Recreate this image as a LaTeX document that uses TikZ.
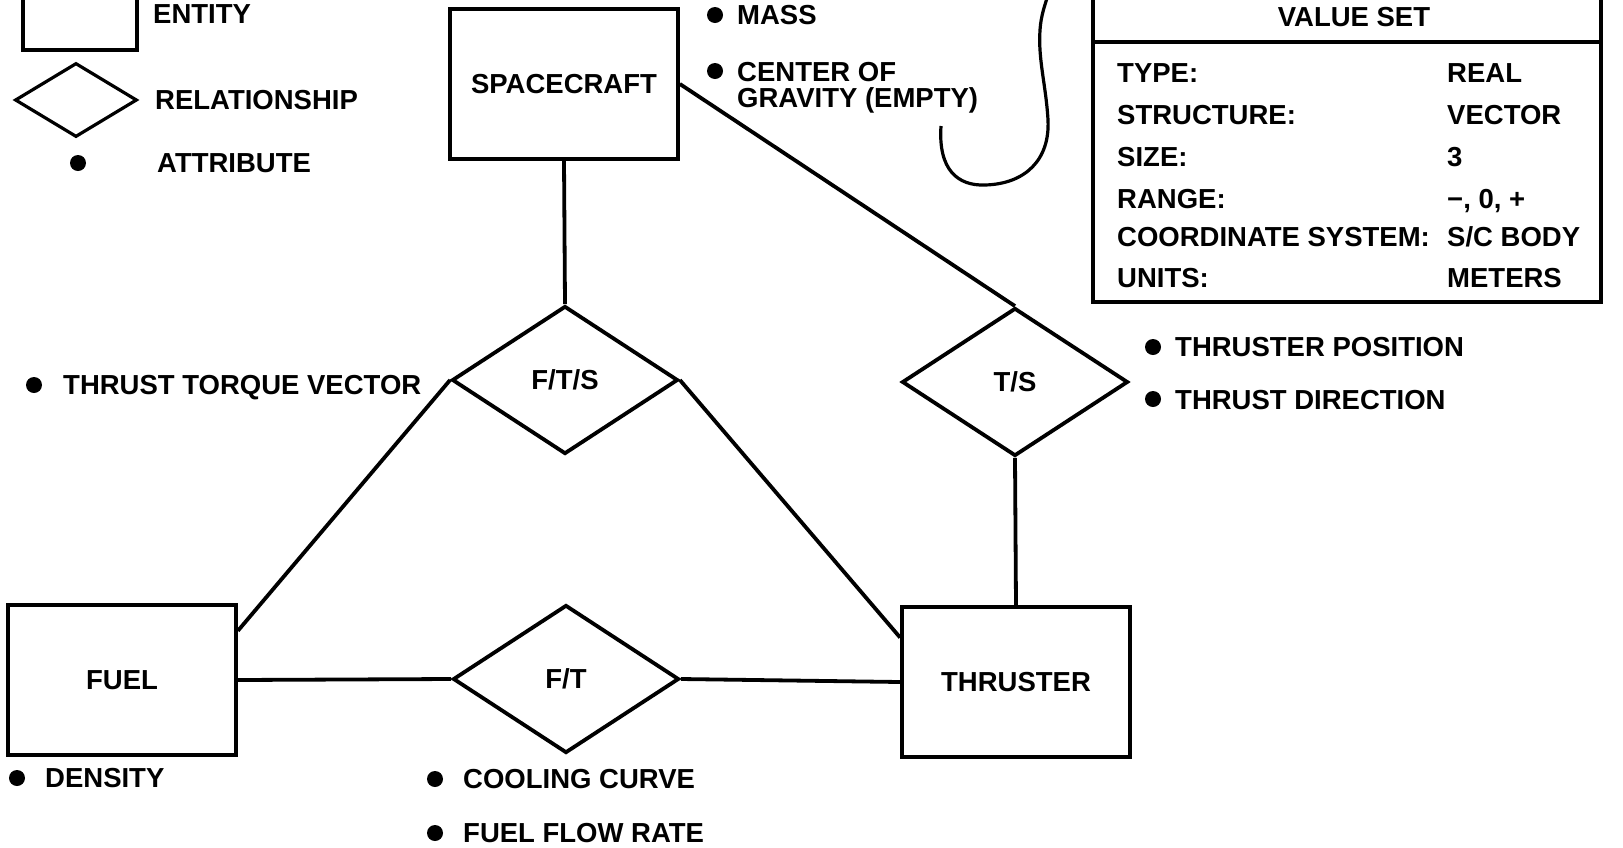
\documentclass[tikz,border=0pt]{standalone}
\usepackage{fontspec}
\setmainfont{Liberation Sans}
\usetikzlibrary{shapes.geometric}

\tikzset{
  entity/.style={draw, line width=3.8pt, minimum width=228pt, minimum height=150pt, inner sep=0pt},
  relation/.style={draw, diamond, line width=3.8pt, minimum width=226pt, minimum height=148pt, inner sep=0pt},
  link/.style={line width=3.8pt},
  dot/.style={circle, fill, inner sep=0pt, minimum size=16pt},
  txt/.style={anchor=west, inner sep=0pt, text height=19pt, text depth=0pt},
  ctr/.style={inner sep=0pt, text height=19pt, text depth=0pt},
}

\begin{document}
\begin{tikzpicture}[x=1pt, y=-1pt, every node/.style={font=\fontsize{27.5}{31}\selectfont\bfseries}]
\useasboundingbox (0,0) rectangle (1623,847);

% Legend
\node[entity, minimum width=114pt, minimum height=90pt, line width=3.2pt] (keyent) at (80,5) {};
\node[txt] (keyentlbl) at (153,14) {ENTITY};
\node[relation, minimum width=122pt, minimum height=74pt, line width=3.2pt] (keyrel) at (76,100) {};
\node[txt] (keyrellbl) at (155,100) {RELATIONSHIP};
\node[dot] (keydot) at (78,163) {};
\node[txt] (keydotlbl) at (157,163) {ATTRIBUTE};

% Entities
\node[entity] (craft) at (564,84) {SPACECRAFT};
\node[entity] (fuel) at (122,680) {FUEL};
\node[entity] (thruster) at (1016,682) {THRUSTER};

% Relationships
\node[relation] (fts) at (565,380) {F/T/S};
\node[relation] (ts) at (1015,382) {T/S};
\node[relation] (ft) at (566,679) {F/T};

% Connectors
\draw[link] (craft.south) -- (fts.north);
\draw[link] (craft.east) -- (ts.north);
\draw[link] (ts.south) -- (thruster.north);
\draw[link] (fts.west) -- (fuel.23);
\draw[link] (fts.east) -- (thruster.159);
\draw[link] (fuel.east) -- (ft.west);
\draw[link] (ft.east) -- (thruster.west);

% Attributes
\node[dot] (massdot) at (715,15) {};
\node[txt] (mass) at (737,15) {MASS};
\node[dot] (cgdot) at (715,71) {};
\node[txt] (cg) at (737,72) {CENTER OF};
\node[txt] (cgb) at (737,98) {GRAVITY (EMPTY)};

\node[dot] (ttvdot) at (34,385) {};
\node[txt] (ttv) at (63,385) {THRUST TORQUE VECTOR};

\node[dot] (tpdot) at (1153,347) {};
\node[txt] (tp) at (1175,347) {THRUSTER POSITION};
\node[dot] (tddot) at (1153,399) {};
\node[txt] (td) at (1175,400) {THRUST DIRECTION};

\node[dot] (densdot) at (17,778) {};
\node[txt] (dens) at (45,778) {DENSITY};

\node[dot] (ccdot) at (435,779) {};
\node[txt] (cc) at (463,779) {COOLING CURVE};
\node[dot] (ffdot) at (435,833) {};
\node[txt] (ff) at (463,833) {FUEL FLOW RATE};

% Hook to the value set
\coordinate (hook) at (941,126);
\draw[line width=3.2pt] (hook) .. controls (938,170) and (958,186) .. (985,185)
  .. controls (1025,184) and (1050,160) .. (1048,120)
  .. controls (1046,85) and (1038,60) .. (1040,30)
  .. controls (1041,15) and (1045,5) .. (1048,-5);

% Value set
\draw[line width=3.2pt] (1093,-10) rectangle (1601,302);
\draw[line width=3.2pt] (1093,42) -- (1601,42);
\node[ctr] (vs) at (1354,17) {VALUE SET};

\node[txt] (typek) at (1117,73) {TYPE:};
\node[txt] (typev) at (1447,73) {REAL};
\node[txt] (strk) at (1117,115) {STRUCTURE:};
\node[txt] (strv) at (1447,115) {VECTOR};
\node[txt] (sizek) at (1117,157) {SIZE:};
\node[txt] (sizev) at (1447,157) {3};
\node[txt] (rngk) at (1117,199) {RANGE:};
\node[txt] (rngv) at (1447,199) {−, 0, +};
\node[txt] (csk) at (1117,237) {COORDINATE SYSTEM:};
\node[txt] (csv) at (1447,237) {S/C BODY};
\node[txt] (unk) at (1117,278) {UNITS:};
\node[txt] (unv) at (1447,278) {METERS};

\end{tikzpicture}
\end{document}
